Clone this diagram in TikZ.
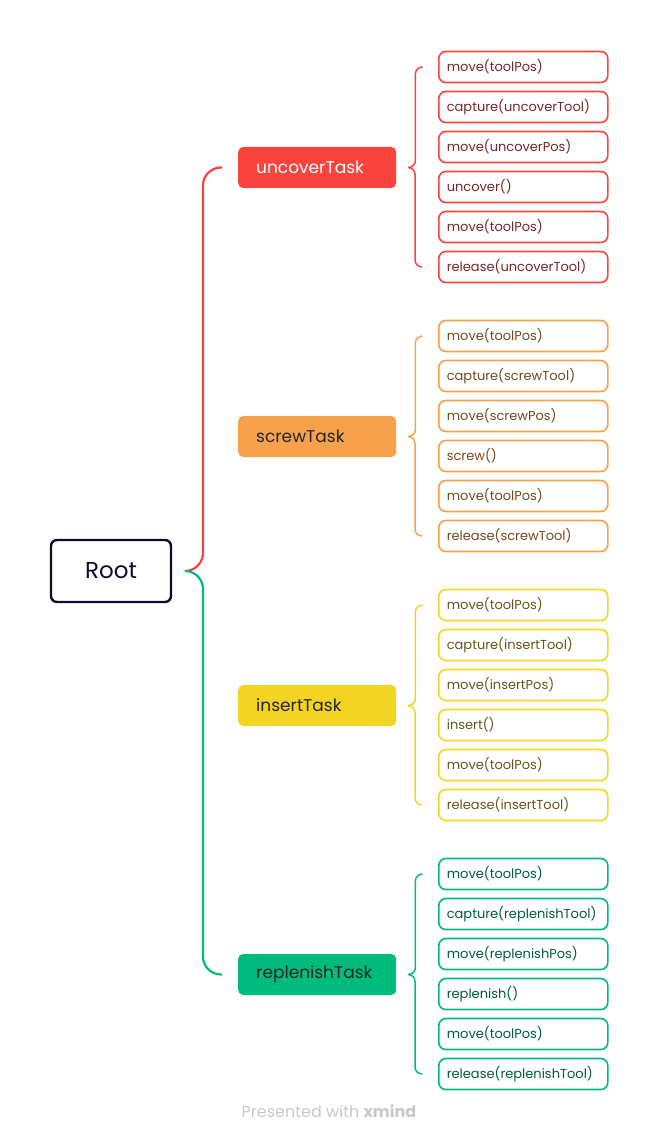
\documentclass[tikz,border=0pt]{standalone}
\usepackage{fontspec}
\setmainfont{Poppins}
\usepackage{xcolor}
\definecolor{rootnavy}{RGB}{13,10,46}
\definecolor{uncoverred}{RGB}{249,68,62}
\definecolor{screworange}{RGB}{247,161,77}
\definecolor{insertyellow}{RGB}{242,212,34}
\definecolor{replenishgreen}{RGB}{0,187,125}
\definecolor{uncovertext}{RGB}{120,38,36}
\definecolor{screwtext}{RGB}{115,72,28}
\definecolor{inserttext}{RGB}{100,86,20}
\definecolor{replenishtext}{RGB}{0,92,62}
\definecolor{footergray}{RGB}{200,200,200}
\usetikzlibrary{calc}
\newcommand{\widthtask}{122pt}
\newcommand{\widthleaf}{153pt}
\tikzset{
    root/.style={draw=rootnavy, line width=2.4pt, rounded corners=6pt, text=rootnavy,
        minimum width=120pt, minimum height=62pt, font=\fontsize{23}{26}\selectfont},
    task/.style={fill=#1, rounded corners=5pt, anchor=west, align=left,
        text width=\widthtask, inner xsep=18pt, minimum height=41pt,
        font=\fontsize{17}{20}\selectfont},
    leaf/.style 2 args={draw=#1, text=#2, line width=1.6pt, rounded corners=7pt,
        anchor=west, align=left, text width=\widthleaf, inner xsep=8pt,
        minimum height=31pt, font=\fontsize{13}{15}\selectfont},
    branch/.style={line width=2.2pt, rounded corners=18pt},
    brace/.style={line width=1.5pt, rounded corners=7pt}
}

\begin{document}
\begin{tikzpicture}[x=1pt, y=-1pt]
      \useasboundingbox (0,0) rectangle (658,1142);

      \node[root] (root) at (111,571) {Root};
      \coordinate (root-out) at ($(root.east)+(14,0)$);

      % uncover
      \path
          (238,167.5) node[task=uncoverred, text=white] (uncover) {uncoverTask}
          (438,67) node[leaf={uncoverred}{uncovertext}] (u1) {move(toolPos)}
          +(0,40) node[leaf={uncoverred}{uncovertext}] (u2) {capture(uncoverTool)}
          +(0,80) node[leaf={uncoverred}{uncovertext}] (u3) {move(uncoverPos)}
          +(0,120) node[leaf={uncoverred}{uncovertext}] (u4) {uncover()}
          +(0,160) node[leaf={uncoverred}{uncovertext}] (u5) {move(toolPos)}
          +(0,200) node[leaf={uncoverred}{uncovertext}] (u6) {release(uncoverTool)};

      \draw[brace, uncoverred] ($(u1.west)+(-16,0)$) -| ($(uncover.east)+(19,0)$) -- ($(uncover.east)+(12,0)$);
      \draw[brace, uncoverred] ($(uncover.east)+(12,0)$) -| ($(u6.west)+(-23,0)$) -- ($(u6.west)+(-16,0)$);

      % screw
      \path
          (238,436.5) node[task=screworange, text=black!85] (screw) {screwTask}
          (438,336) node[leaf={screworange}{screwtext}] (s1) {move(toolPos)}
          +(0,40) node[leaf={screworange}{screwtext}] (s2) {capture(screwTool)}
          +(0,80) node[leaf={screworange}{screwtext}] (s3) {move(screwPos)}
          +(0,120) node[leaf={screworange}{screwtext}] (s4) {screw()}
          +(0,160) node[leaf={screworange}{screwtext}] (s5) {move(toolPos)}
          +(0,200) node[leaf={screworange}{screwtext}] (s6) {release(screwTool)};

      \draw[brace, screworange] ($(s1.west)+(-16,0)$) -| ($(screw.east)+(19,0)$) -- ($(screw.east)+(12,0)$);
      \draw[brace, screworange] ($(screw.east)+(12,0)$) -| ($(s6.west)+(-23,0)$) -- ($(s6.west)+(-16,0)$);

      % insert
      \path
          (238,705.5) node[task=insertyellow, text=black!85] (insert) {insertTask}
          (438,605) node[leaf={insertyellow}{inserttext}] (i1) {move(toolPos)}
          +(0,40) node[leaf={insertyellow}{inserttext}] (i2) {capture(insertTool)}
          +(0,80) node[leaf={insertyellow}{inserttext}] (i3) {move(insertPos)}
          +(0,120) node[leaf={insertyellow}{inserttext}] (i4) {insert()}
          +(0,160) node[leaf={insertyellow}{inserttext}] (i5) {move(toolPos)}
          +(0,200) node[leaf={insertyellow}{inserttext}] (i6) {release(insertTool)};

      \draw[brace, insertyellow] ($(i1.west)+(-16,0)$) -| ($(insert.east)+(19,0)$) -- ($(insert.east)+(12,0)$);
      \draw[brace, insertyellow] ($(insert.east)+(12,0)$) -| ($(i6.west)+(-23,0)$) -- ($(i6.west)+(-16,0)$);

      % replenish
      \path
          (238,974.5) node[task=replenishgreen, text=black!85] (replenish) {replenishTask}
          (438,874) node[leaf={replenishgreen}{replenishtext}] (r1) {move(toolPos)}
          +(0,40) node[leaf={replenishgreen}{replenishtext}] (r2) {capture(replenishTool)}
          +(0,80) node[leaf={replenishgreen}{replenishtext}] (r3) {move(replenishPos)}
          +(0,120) node[leaf={replenishgreen}{replenishtext}] (r4) {replenish()}
          +(0,160) node[leaf={replenishgreen}{replenishtext}] (r5) {move(toolPos)}
          +(0,200) node[leaf={replenishgreen}{replenishtext}] (r6) {release(replenishTool)};

      \draw[brace, replenishgreen] ($(r1.west)+(-16,0)$) -| ($(replenish.east)+(19,0)$) -- ($(replenish.east)+(12,0)$);
      \draw[brace, replenishgreen] ($(replenish.east)+(12,0)$) -| ($(r6.west)+(-23,0)$) -- ($(r6.west)+(-16,0)$);

      % root branches
      \draw[branch, uncoverred] (root-out) -| ($(uncover.west)+(-35,0)$) -- ($(uncover.west)+(-16,0)$);
      \draw[branch, replenishgreen] (root-out) -| ($(replenish.west)+(-35,0)$) -- ($(replenish.west)+(-16,0)$);

      \node[text=footergray, font=\fontsize{16}{18}\selectfont] (footer) at (329,1111) {Presented with \textbf{xmind}};
    \end{tikzpicture}
\end{document}
